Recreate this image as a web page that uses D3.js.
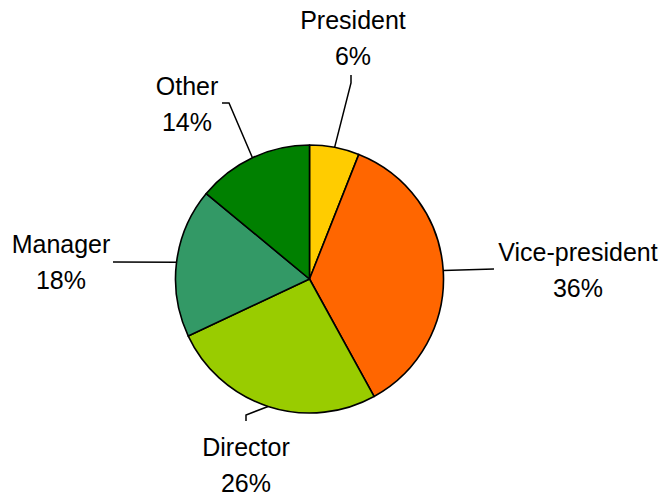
<!DOCTYPE html>
<html>
<head>
<meta charset="utf-8">
<script src="https://cdn.jsdelivr.net/npm/d3@7"></script>
<style>
  html, body { margin: 0; padding: 0; background: #fff; }
  svg { display: block; }
  text { font-family: "Liberation Sans", Arial, sans-serif; font-size: 25px; fill: #000; }
</style>
</head>
<body>
<svg id="chart" width="664" height="498"></svg>
<script>
// Share of respondents by job title
const categories = ["President", "Vice-president", "Director", "Manager", "Other"];
const shares = [6, 36, 26, 18, 14];
const percentLabels = ["6%", "36%", "26%", "18%", "14%"];

const colors = ["#FFCC00", "#FF6600", "#99CC00", "#339966", "#008000"];

// Label placement: text centre x, first baseline, and leader-line bend / end points
const labelLayout = [
  { x: 353, y: 29,  pts: [[351, 83], [351, 75]] },
  { x: 578, y: 261, pts: [[494, 269]] },
  { x: 246, y: 456, pts: [[246, 415], [246, 421]] },
  { x: 61,  y: 253, pts: [[113, 262]] },
  { x: 187, y: 95,  pts: [[229, 103], [222, 103]] }
];

const cx = 309.5, cy = 279, radius = 134;
const lineGap = 36;

const svg = d3.select("#chart");
const g = svg.append("g").attr("transform", `translate(${cx},${cy})`);

const pie = d3.pie().sort(null).value(d => d.value);
const arc = d3.arc().innerRadius(0).outerRadius(radius);

const data = categories.map((c, i) => ({ name: c, value: shares[i], label: percentLabels[i], color: colors[i] }));
const arcs = pie(data);

g.selectAll("path.slice")
  .data(arcs)
  .join("path")
  .attr("class", "slice")
  .attr("d", arc)
  .attr("fill", d => d.data.color)
  .attr("stroke", "#000")
  .attr("stroke-width", 1.6)
  .attr("stroke-linejoin", "round");

// Leader lines start on the rim at each slice's middle angle
const line = d3.line();
svg.selectAll("path.leader")
  .data(arcs)
  .join("path")
  .attr("class", "leader")
  .attr("d", (d, i) => {
    const a = (d.startAngle + d.endAngle) / 2;
    const start = [cx + radius * Math.sin(a), cy - radius * Math.cos(a)];
    return line([start, ...labelLayout[i].pts]);
  })
  .attr("fill", "none")
  .attr("stroke", "#000")
  .attr("stroke-width", 1.5);

const labels = svg.selectAll("text.lbl")
  .data(arcs)
  .join("text")
  .attr("class", "lbl")
  .attr("text-anchor", "middle");

labels.append("tspan")
  .attr("x", (d, i) => labelLayout[i].x)
  .attr("y", (d, i) => labelLayout[i].y)
  .text(d => d.data.name);

labels.append("tspan")
  .attr("x", (d, i) => labelLayout[i].x)
  .attr("y", (d, i) => labelLayout[i].y + lineGap)
  .text(d => d.data.label);
</script>
</body>
</html>
